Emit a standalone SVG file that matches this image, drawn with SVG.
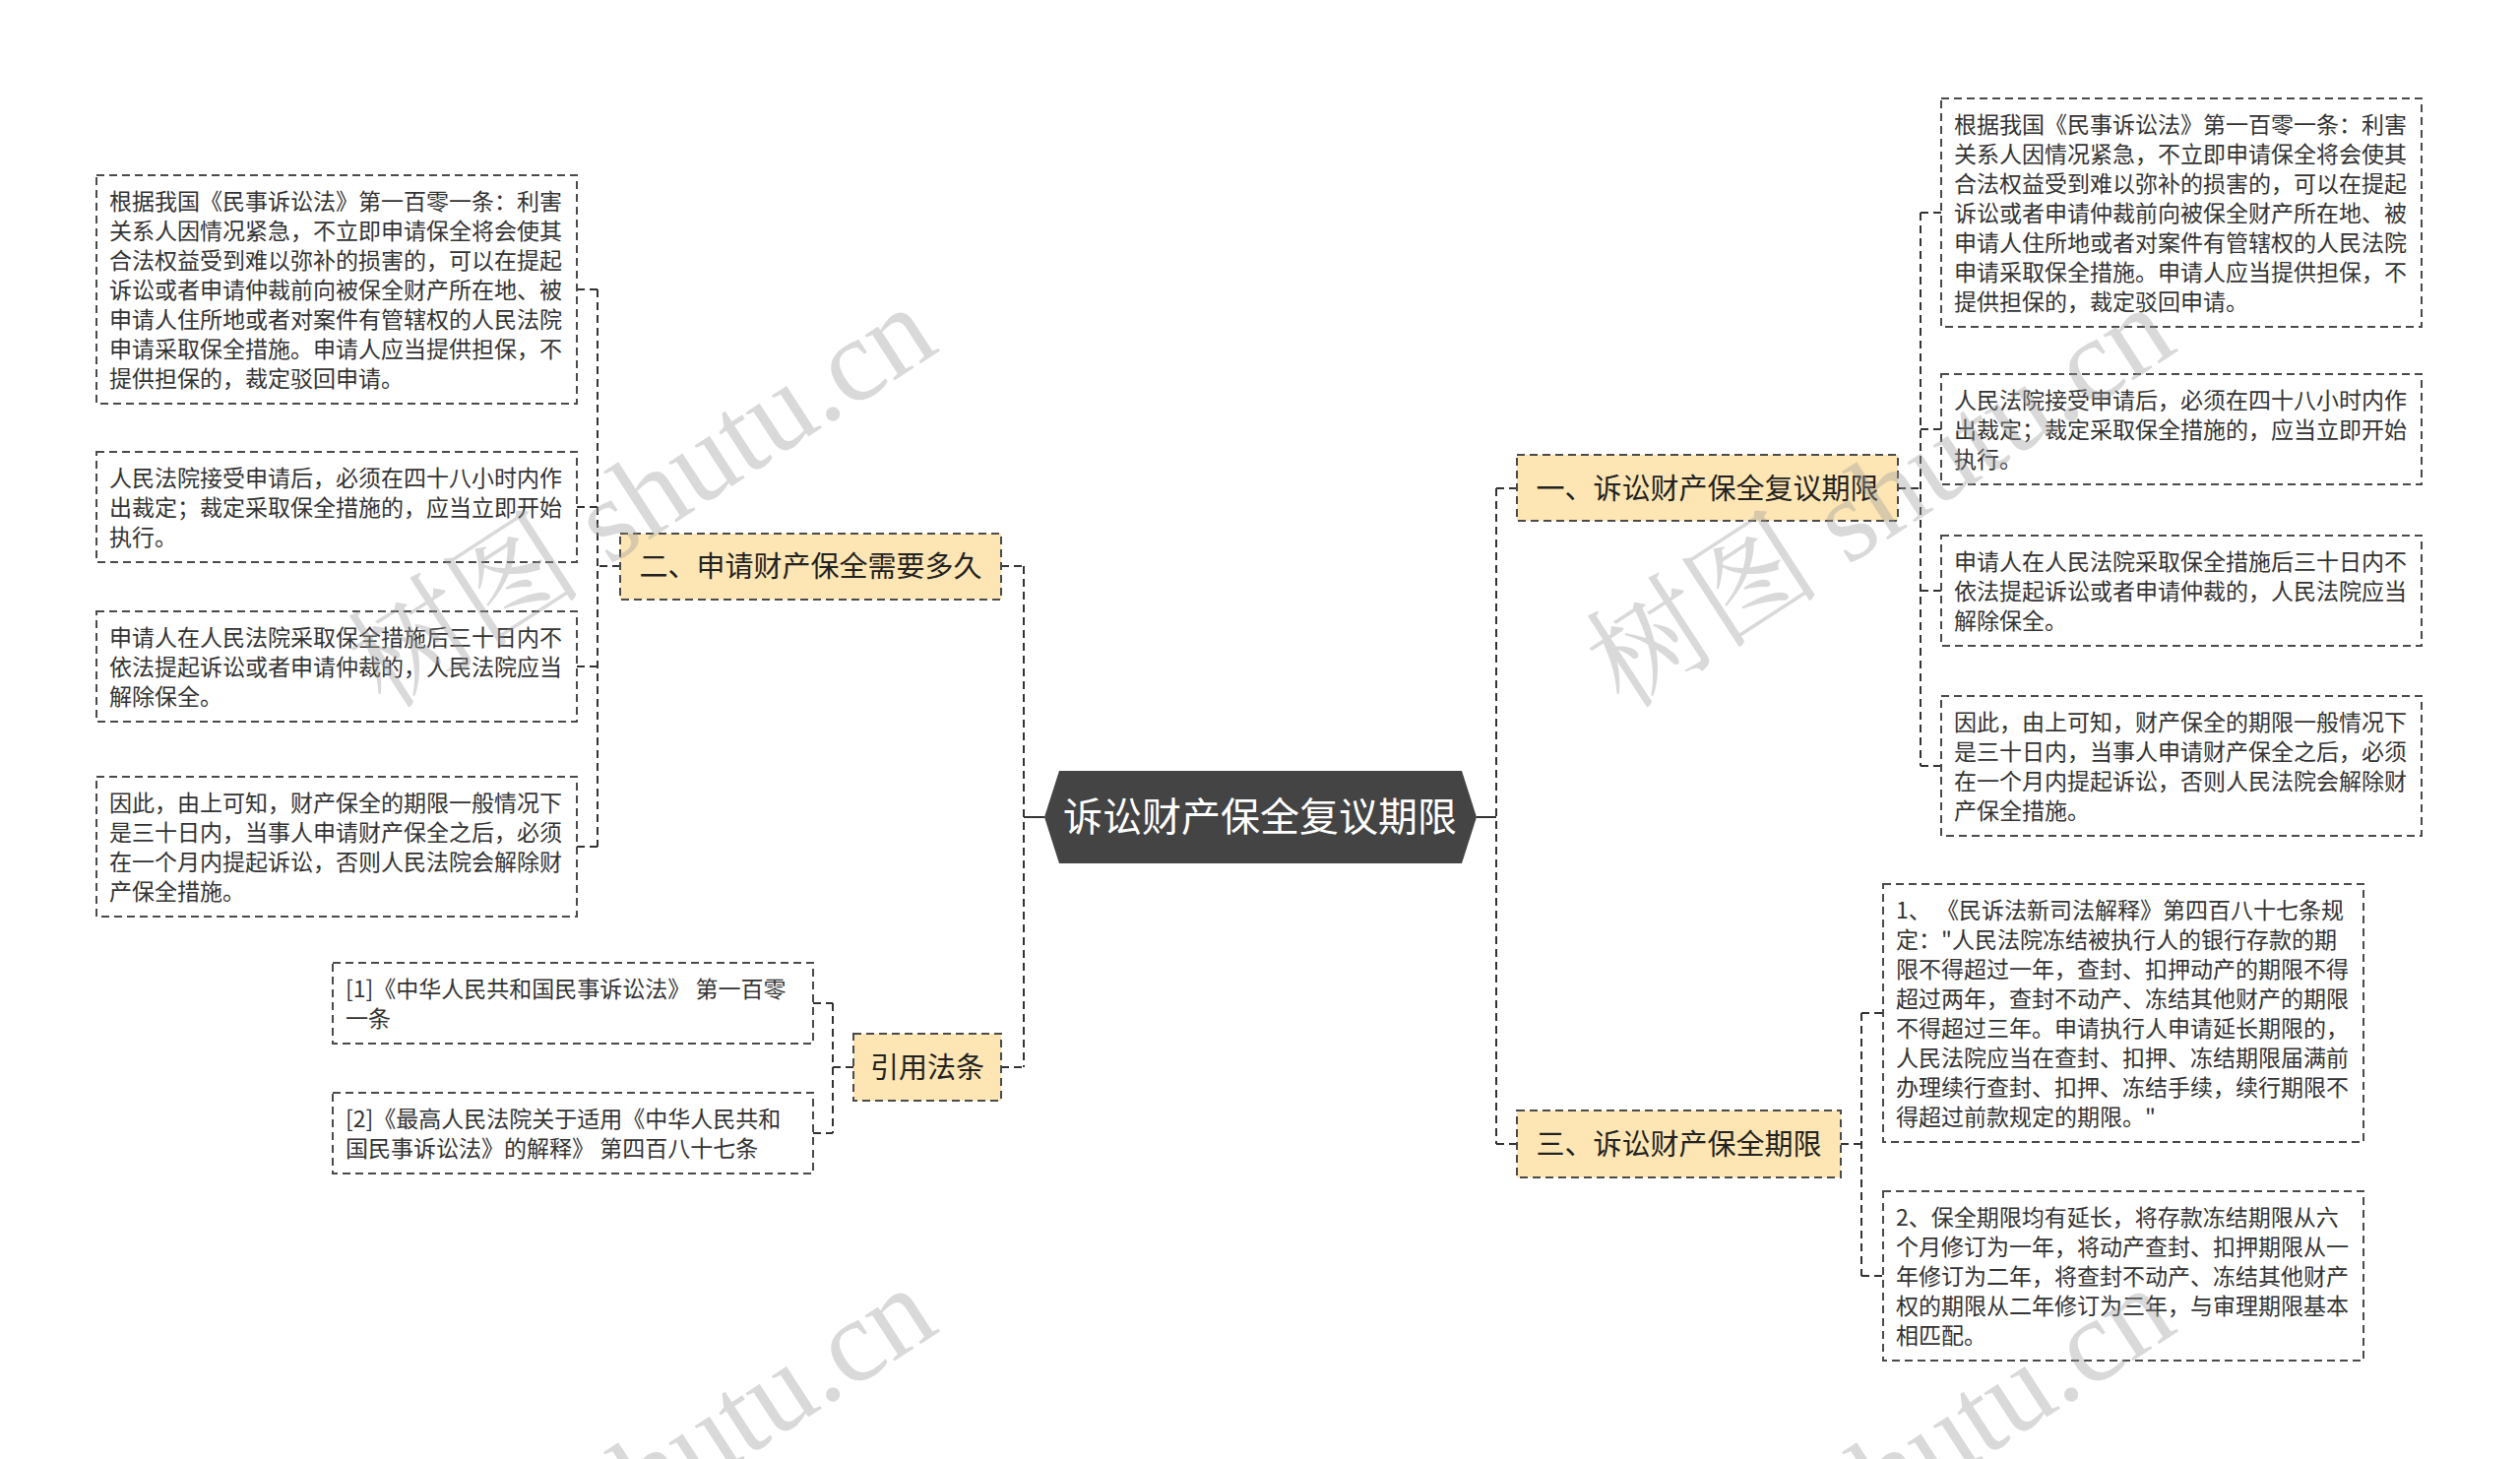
<svg xmlns="http://www.w3.org/2000/svg" width="2560" height="1482" viewBox="0 0 2560 1482">
<style>
.box{fill:#fff;stroke:#4a4a4a;stroke-width:2;stroke-dasharray:8 5}
.topic{fill:#fde6b3;stroke:#4a4a4a;stroke-width:2;stroke-dasharray:8 5}
.t{font-family:"Noto Sans CJK SC","Noto Sans",sans-serif;font-size:23px;fill:#333}
.tt{font-family:"Noto Sans CJK SC","Noto Sans",sans-serif;font-size:29px;fill:#222;text-anchor:middle}
.ct{font-family:"Noto Sans CJK SC","Noto Sans",sans-serif;font-size:40px;fill:#fff;text-anchor:middle}
.c{fill:none;stroke:#333;stroke-width:2;stroke-dasharray:8 5}
.s{fill:none;stroke:#333;stroke-width:2}
.wm{font-family:"Liberation Serif","Noto Serif CJK SC","Noto Sans CJK SC",serif;font-size:120px;fill:#9a9a9a;fill-opacity:0.38}
</style>
<rect width="2560" height="1482" fill="#fff"/>
<g id="connectors">
<path class="s" d="M1040 830H1061M1500 830H1520"/>
<path class="c" d="M1040 575V1084M1017 575H1040M1017 1084H1040"/>
<path class="c" d="M1520 496V1162M1520 496H1541M1520 1162H1541"/>
<path class="c" d="M607 294V860M630 575H607M586 294H607M586 515H607M586 677H607M586 860H607"/>
<path class="c" d="M1951 216V778M1928 496H1951M1951 216H1972M1951 436H1972M1951 600H1972M1951 778H1972"/>
<path class="c" d="M1891 1029V1296M1870 1162H1891M1891 1029H1913M1891 1296H1913"/>
<path class="c" d="M846 1019V1151M867 1084H846M826 1019H846M826 1151H846"/>
</g>
<g id="center">
<polygon points="1061,830 1076,783 1485,783 1500,830 1485,877 1076,877" fill="#444"/>
<text class="ct" x="1280" y="844">诉讼财产保全复议期限</text>
</g>
<g id="topic-2">
<rect class="topic" x="630" y="542" width="387" height="67"/>
<text class="tt" x="823.5" y="586">二、申请财产保全需要多久</text>
</g>
<g id="topic-1">
<rect class="topic" x="1541" y="462" width="387" height="67"/>
<text class="tt" x="1734.5" y="507">一、诉讼财产保全复议期限</text>
</g>
<g id="topic-3">
<rect class="topic" x="1541" y="1128" width="329" height="68"/>
<text class="tt" x="1705.5" y="1173">三、诉讼财产保全期限</text>
</g>
<g id="topic-ref">
<rect class="topic" x="867" y="1050" width="150" height="68"/>
<text class="tt" x="942" y="1095">引用法条</text>
</g>
<g id="L1">
<rect class="box" x="98" y="178" width="488" height="232"/>
<text class="t"><tspan x="111" y="213">根据我国《民事诉讼法》第一百零一条：利害</tspan><tspan x="111" y="243">关系人因情况紧急，不立即申请保全将会使其</tspan><tspan x="111" y="273">合法权益受到难以弥补的损害的，可以在提起</tspan><tspan x="111" y="303">诉讼或者申请仲裁前向被保全财产所在地、被</tspan><tspan x="111" y="333">申请人住所地或者对案件有管辖权的人民法院</tspan><tspan x="111" y="363">申请采取保全措施。申请人应当提供担保，不</tspan><tspan x="111" y="393">提供担保的，裁定驳回申请。</tspan></text>
</g>
<g id="L2">
<rect class="box" x="98" y="459" width="488" height="112"/>
<text class="t"><tspan x="111" y="494">人民法院接受申请后，必须在四十八小时内作</tspan><tspan x="111" y="524">出裁定；裁定采取保全措施的，应当立即开始</tspan><tspan x="111" y="554">执行。</tspan></text>
</g>
<g id="L3">
<rect class="box" x="98" y="621" width="488" height="112"/>
<text class="t"><tspan x="111" y="656">申请人在人民法院采取保全措施后三十日内不</tspan><tspan x="111" y="686">依法提起诉讼或者申请仲裁的，人民法院应当</tspan><tspan x="111" y="716">解除保全。</tspan></text>
</g>
<g id="L4">
<rect class="box" x="98" y="789" width="488" height="142"/>
<text class="t"><tspan x="111" y="824">因此，由上可知，财产保全的期限一般情况下</tspan><tspan x="111" y="854">是三十日内，当事人申请财产保全之后，必须</tspan><tspan x="111" y="884">在一个月内提起诉讼，否则人民法院会解除财</tspan><tspan x="111" y="914">产保全措施。</tspan></text>
</g>
<g id="R1">
<rect class="box" x="1972" y="100" width="488" height="232"/>
<text class="t"><tspan x="1985" y="135">根据我国《民事诉讼法》第一百零一条：利害</tspan><tspan x="1985" y="165">关系人因情况紧急，不立即申请保全将会使其</tspan><tspan x="1985" y="195">合法权益受到难以弥补的损害的，可以在提起</tspan><tspan x="1985" y="225">诉讼或者申请仲裁前向被保全财产所在地、被</tspan><tspan x="1985" y="255">申请人住所地或者对案件有管辖权的人民法院</tspan><tspan x="1985" y="285">申请采取保全措施。申请人应当提供担保，不</tspan><tspan x="1985" y="315">提供担保的，裁定驳回申请。</tspan></text>
</g>
<g id="R2">
<rect class="box" x="1972" y="380" width="488" height="112"/>
<text class="t"><tspan x="1985" y="415">人民法院接受申请后，必须在四十八小时内作</tspan><tspan x="1985" y="445">出裁定；裁定采取保全措施的，应当立即开始</tspan><tspan x="1985" y="475">执行。</tspan></text>
</g>
<g id="R3">
<rect class="box" x="1972" y="544" width="488" height="112"/>
<text class="t"><tspan x="1985" y="579">申请人在人民法院采取保全措施后三十日内不</tspan><tspan x="1985" y="609">依法提起诉讼或者申请仲裁的，人民法院应当</tspan><tspan x="1985" y="639">解除保全。</tspan></text>
</g>
<g id="R4">
<rect class="box" x="1972" y="707" width="488" height="142"/>
<text class="t"><tspan x="1985" y="742">因此，由上可知，财产保全的期限一般情况下</tspan><tspan x="1985" y="772">是三十日内，当事人申请财产保全之后，必须</tspan><tspan x="1985" y="802">在一个月内提起诉讼，否则人民法院会解除财</tspan><tspan x="1985" y="832">产保全措施。</tspan></text>
</g>
<g id="R5">
<rect class="box" x="1913" y="898" width="488" height="262"/>
<text class="t"><tspan x="1926" y="933">1、 《民诉法新司法解释》第四百八十七条规</tspan><tspan x="1926" y="963">定："人民法院冻结被执行人的银行存款的期</tspan><tspan x="1926" y="993">限不得超过一年，查封、扣押动产的期限不得</tspan><tspan x="1926" y="1023">超过两年，查封不动产、冻结其他财产的期限</tspan><tspan x="1926" y="1053">不得超过三年。申请执行人申请延长期限的，</tspan><tspan x="1926" y="1083">人民法院应当在查封、扣押、冻结期限届满前</tspan><tspan x="1926" y="1113">办理续行查封、扣押、冻结手续，续行期限不</tspan><tspan x="1926" y="1143">得超过前款规定的期限。"</tspan></text>
</g>
<g id="R6">
<rect class="box" x="1913" y="1210" width="488" height="172"/>
<text class="t"><tspan x="1926" y="1245">2、保全期限均有延长，将存款冻结期限从六</tspan><tspan x="1926" y="1275">个月修订为一年，将动产查封、扣押期限从一</tspan><tspan x="1926" y="1305">年修订为二年，将查封不动产、冻结其他财产</tspan><tspan x="1926" y="1335">权的期限从二年修订为三年，与审理期限基本</tspan><tspan x="1926" y="1365">相匹配。</tspan></text>
</g>
<g id="C1">
<rect class="box" x="338" y="978" width="488" height="82"/>
<text class="t"><tspan x="351" y="1013">[1]《中华人民共和国民事诉讼法》 第一百零</tspan><tspan x="351" y="1043">一条</tspan></text>
</g>
<g id="C2">
<rect class="box" x="338" y="1110" width="488" height="82"/>
<text class="t"><tspan x="351" y="1145">[2]《最高人民法院关于适用《中华人民共和</tspan><tspan x="351" y="1175">国民事诉讼法》的解释》 第四百八十七条</tspan></text>
</g>
<g id="watermarks">
<text class="wm" transform="translate(392 722) rotate(-33)">树图 shutu.cn</text>
<text class="wm" transform="translate(1650 722) rotate(-33)">树图 shutu.cn</text>
<text class="wm" transform="translate(392 1718) rotate(-33)">树图 shutu.cn</text>
<text class="wm" transform="translate(1650 1718) rotate(-33)">树图 shutu.cn</text>
</g>
</svg>
